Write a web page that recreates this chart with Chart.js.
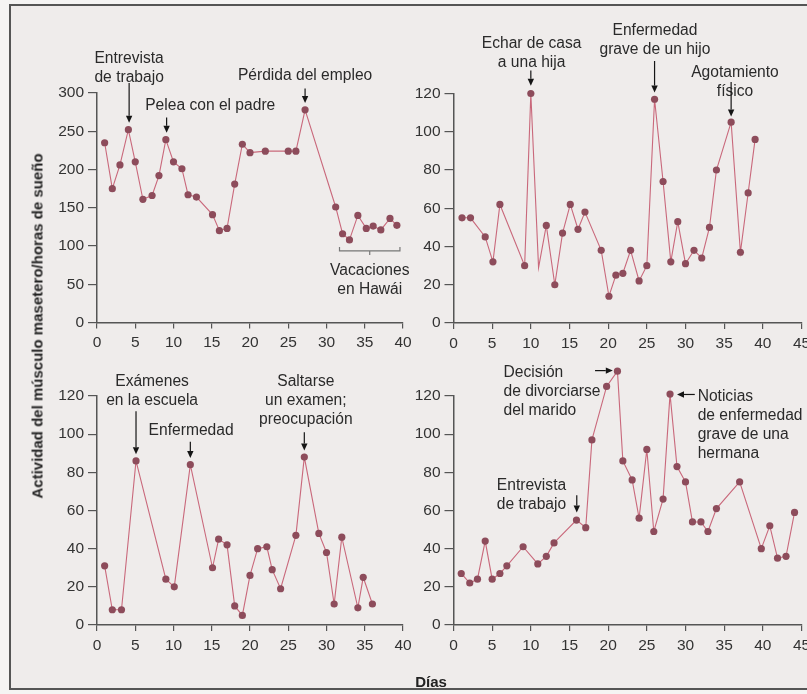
<!DOCTYPE html>
<html>
<head>
<meta charset="utf-8">
<script src="https://cdn.jsdelivr.net/npm/chart.js@4.4.1/dist/chart.umd.min.js"></script>
<style>
html, body { margin: 0; padding: 0; background: #f5f4f3; overflow: hidden; }
#page { position: relative; width: 807px; height: 694px; }
#frame { position: absolute; left: 9px; top: 4px; width: 830px; height: 686px; border: 2px solid #555; background: #efeceb; box-sizing: border-box; }
canvas { position: absolute; left: 0; top: 0; }
.title { position: absolute; font-family: "Liberation Sans", Arial, sans-serif; font-weight: bold; color: #222; white-space: nowrap; }
#ytitle { left: 37px; top: 326px; font-size: 15px; transform: translate(-50%, -50%) rotate(-90deg); }
#xtitle { left: 431px; top: 681px; font-size: 15px; transform: translate(-50%, -50%); }
</style>
</head>
<body>
<div id="page">
  <div id="frame"></div>
  <canvas id="tl" width="807" height="694"></canvas>
  <canvas id="tr" width="807" height="694"></canvas>
  <canvas id="bl" width="807" height="694"></canvas>
  <canvas id="br" width="807" height="694"></canvas>
  <div class="title" id="ytitle">Actividad del músculo masetero/horas de sueño</div>
  <div class="title" id="xtitle">Días</div>
</div>
<script>
// Panel data (day, value)
const tlDays = [1, 2, 3, 4.1, 5, 6, 7.2, 8.1, 9, 10, 11.1, 11.9, 13, 15.1, 16, 17, 18, 19, 20, 22, 25, 26, 27.2, 31.2, 32.1, 33, 34.1, 35.2, 36.1, 37.1, 38.3, 39.2];
const tlValues = [235, 175, 206, 252, 210, 161, 166, 192, 239, 210, 201, 167, 164, 141, 120, 123, 181, 233, 222, 224, 224, 224, 278, 151, 116, 108, 140, 123, 126, 121, 136, 127];

const trDays = [1.1, 2.2, 4.1, 5.1, 6, 9.2, 10, 11, 12, 13.1, 14.1, 15.1, 16.1, 17, 19.1, 20.1, 21, 21.9, 22.9, 24, 25, 26, 27.1, 28.1, 29, 30, 31.1, 32.1, 33.1, 34, 35.9, 37.1, 38.1, 39];
const trValues = [55, 55, 45, 32, 62, 30, 120, 29, 51, 20, 47, 62, 49, 58, 38, 14, 25, 26, 38, 22, 30, 117, 74, 32, 53, 31, 38, 34, 50, 80, 105, 37, 68, 96];
const trNoMarker = [7]; // vertex drawn without a dot

const blDays = [1, 2, 3.2, 5.1, 9, 10.1, 12.2, 15.1, 15.9, 17, 18, 19, 20, 21, 22.2, 22.9, 24, 26, 27.1, 29, 30, 31, 32, 34.1, 34.8, 36];
const blValues = [31, 8, 8, 86, 24, 20, 84, 30, 45, 42, 10, 5, 26, 40, 41, 29, 19, 47, 88, 48, 38, 11, 46, 9, 25, 11];

const brDays = [1, 2.1, 3.1, 4.1, 5, 6, 6.9, 9, 10.9, 12, 13, 15.9, 17.1, 17.9, 19.8, 21.2, 21.9, 23.1, 24, 25, 25.9, 27.1, 28, 28.9, 30, 30.9, 32, 32.9, 34, 37, 39.8, 40.9, 41.9, 43, 44.1];
const brValues = [27, 22, 24, 44, 24, 27, 31, 41, 32, 36, 43, 55, 51, 97, 125, 133, 86, 76, 56, 92, 49, 66, 121, 83, 75, 54, 54, 49, 61, 75, 40, 52, 35, 36, 59];

const FONT = '"Liberation Sans", Arial, Helvetica, sans-serif';
const W = 807, H = 694;
const Y_AXIS_W = 50, X_AXIS_H = 40;
const LINE_H = 19;

// annotations, in data units of each panel
const tlNotes = {
    labels: [
        { lines: ['Entrevista', 'de trabajo'], x: 4.2, y: 345 },
        { lines: ['Pelea con el padre'], x: 14.8, y: 284 },
        { lines: ['Pérdida del empleo'], x: 27.2, y: 322 },
        { lines: ['Vacaciones', 'en Hawái'], x: 35.65, y: 68 }
    ],
    arrows: [
        { x1: 4.2, y1: 313, x2: 4.2, y2: 261 },
        { x1: 9.1, y1: 268, x2: 9.1, y2: 248 },
        { x1: 27.2, y1: 306, x2: 27.2, y2: 287 }
    ],
    brackets: [{ x1: 31.7, x2: 39.6, y: 93.5 }]
};
const trNotes = {
    labels: [
        { lines: ['Echar de casa', 'a una hija'], x: 10.1, y: 146 },
        { lines: ['Enfermedad', 'grave de un hijo'], x: 26.05, y: 153 },
        { lines: ['Agotamiento', 'físico'], x: 36.4, y: 131 }
    ],
    arrows: [
        { x1: 10, y1: 132, x2: 10, y2: 124 },
        { x1: 26, y1: 137, x2: 26, y2: 120.5 },
        { x1: 35.9, y1: 126, x2: 35.9, y2: 108 }
    ],
    brackets: []
};
const blNotes = {
    labels: [
        { lines: ['Exámenes', 'en la escuela'], x: 7.2, y: 127.5 },
        { lines: ['Enfermedad'], x: 12.3, y: 102 },
        { lines: ['Saltarse', 'un examen;', 'preocupación'], x: 27.3, y: 127.5 }
    ],
    arrows: [
        { x1: 5.1, y1: 112, x2: 5.1, y2: 89.5 },
        { x1: 12.2, y1: 96, x2: 12.2, y2: 87.5 },
        { x1: 27.1, y1: 101, x2: 27.1, y2: 91.5 }
    ],
    brackets: []
};
const brNotes = {
    labels: [
        { lines: ['Decisión', 'de divorciarse', 'del marido'], x: 6.46, y: 132.4, align: 'left' },
        { lines: ['Noticias', 'de enfermedad', 'grave de una', 'hermana'], x: 31.57, y: 119.9, align: 'left' },
        { lines: ['Entrevista', 'de trabajo'], x: 5.6, y: 73.2, align: 'left' }
    ],
    arrows: [
        { x1: 18.3, y1: 133.3, x2: 20.6, y2: 133.3 },
        { x1: 31.2, y1: 120.8, x2: 28.9, y2: 120.8 },
        { x1: 15.94, y1: 68, x2: 15.94, y2: 59 }
    ],
    brackets: []
};

function notesPlugin(notes) {
    let savedArea = null;
    return {
        id: 'notes',
        // let the markers that rise above the top tick still be drawn
        beforeDatasetsDraw(chart) {
            savedArea = chart.chartArea;
            chart.chartArea = { left: 0, top: 0, right: W, bottom: H, width: W, height: H };
        },
        afterDatasetsDraw(chart) {
            if (savedArea) chart.chartArea = savedArea;
        },
        afterDraw(chart) {
            const ctx = chart.ctx;
            const xs = chart.scales.x, ys = chart.scales.y;
            ctx.save();
            ctx.font = '15.6px ' + FONT;
            ctx.fillStyle = '#2a2a2a';
            ctx.textBaseline = 'middle';
            notes.labels.forEach(n => {
                ctx.textAlign = n.align || 'center';
                const px = xs.getPixelForValue(n.x), py = ys.getPixelForValue(n.y);
                n.lines.forEach((t, i) => ctx.fillText(t, px, py + i * LINE_H));
            });
            ctx.strokeStyle = '#151515';
            ctx.fillStyle = '#151515';
            ctx.lineWidth = 1.2;
            notes.arrows.forEach(a => {
                const x1 = xs.getPixelForValue(a.x1), y1 = ys.getPixelForValue(a.y1);
                const x2 = xs.getPixelForValue(a.x2), y2 = ys.getPixelForValue(a.y2);
                const ang = Math.atan2(y2 - y1, x2 - x1);
                const hl = 7, hw = 3.2;
                const bx = x2 - hl * Math.cos(ang), by = y2 - hl * Math.sin(ang);
                ctx.beginPath();
                ctx.moveTo(x1, y1);
                ctx.lineTo(bx, by);
                ctx.stroke();
                ctx.beginPath();
                ctx.moveTo(x2, y2);
                ctx.lineTo(bx + hw * Math.sin(ang), by - hw * Math.cos(ang));
                ctx.lineTo(bx - hw * Math.sin(ang), by + hw * Math.cos(ang));
                ctx.closePath();
                ctx.fill();
            });
            ctx.strokeStyle = '#777';
            notes.brackets.forEach(b => {
                const x1 = xs.getPixelForValue(b.x1), x2 = xs.getPixelForValue(b.x2);
                const y = ys.getPixelForValue(b.y), xm = (x1 + x2) / 2;
                ctx.beginPath();
                ctx.moveTo(x1, y - 4);
                ctx.lineTo(x1, y);
                ctx.lineTo(x2, y);
                ctx.lineTo(x2, y - 4);
                ctx.moveTo(xm, y);
                ctx.lineTo(xm, y + 4);
                ctx.stroke();
            });
            ctx.restore();
        }
    };
}

function axisOptions(max, step, isX) {
    return {
        type: 'linear',
        min: 0,
        max: max,
        ticks: {
            stepSize: step,
            color: '#333',
            font: { family: FONT, size: 15.5 },
            padding: isX ? 5 : 4,
            maxRotation: 0,
            autoSkip: false
        },
        grid: {
            display: true,
            drawOnChartArea: false,
            drawTicks: true,
            tickLength: isX ? 6 : 9,
            color: '#555',
            lineWidth: 1.2
        },
        border: { display: true, color: '#555', width: 1.5 },
        afterFit(scale) {
            if (isX) {
                scale.height = X_AXIS_H;
                scale.paddingLeft = 0;
                scale.paddingRight = 0;
            } else {
                scale.width = Y_AXIS_W;
                scale.paddingTop = 0;
                scale.paddingBottom = 0;
            }
        }
    };
}

function buildPanel(id, area, xMax, yMax, yStep, days, values, notes, noMarker) {
    const points = days.map((d, i) => ({ x: d, y: values[i] }));
    const hidden = noMarker || [];
    return new Chart(document.getElementById(id), {
        type: 'line',
        data: {
            datasets: [{
                data: points,
                borderColor: '#c9687b',
                borderWidth: 1.1,
                tension: 0,
                clip: false,
                pointRadius: ctx => hidden.includes(ctx.dataIndex) ? 0 : 3.6,
                pointBackgroundColor: '#8d4c5b',
                pointBorderColor: '#8d4c5b',
                pointBorderWidth: 0
            }]
        },
        options: {
            responsive: false,
            animation: false,
            devicePixelRatio: 1,
            events: [],
            layout: {
                padding: {
                    left: area.left - Y_AXIS_W,
                    right: W - area.right,
                    top: area.top,
                    bottom: H - X_AXIS_H - area.bottom
                }
            },
            plugins: { legend: { display: false }, tooltip: { enabled: false } },
            scales: {
                x: axisOptions(xMax, 5, true),
                y: axisOptions(yMax, yStep, false)
            }
        },
        plugins: [notesPlugin(notes)]
    });
}

document.addEventListener('DOMContentLoaded', () => {
    buildPanel('tl', { left: 97, right: 403, top: 93, bottom: 322.5 }, 40, 300, 50, tlDays, tlValues, tlNotes);
    buildPanel('tr', { left: 453.5, right: 801.5, top: 93.5, bottom: 323 }, 45, 120, 20, trDays, trValues, trNotes, trNoMarker);
    buildPanel('bl', { left: 97, right: 403, top: 396, bottom: 625 }, 40, 120, 20, blDays, blValues, blNotes);
    buildPanel('br', { left: 453.5, right: 801.5, top: 396, bottom: 625 }, 45, 120, 20, brDays, brValues, brNotes);
});
</script>
</body>
</html>
